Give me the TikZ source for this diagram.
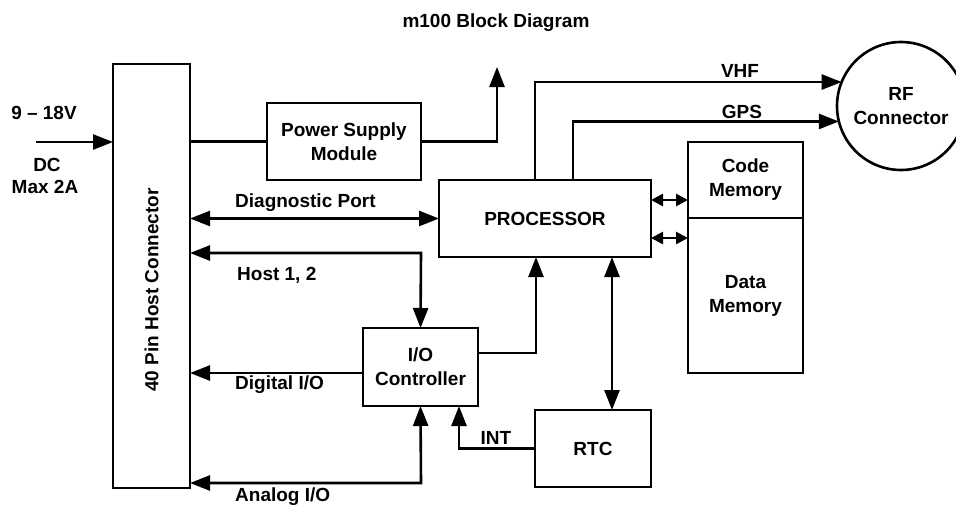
\documentclass[tikz,border=0pt]{standalone}
\usepackage{fontspec}
\setmainfont{Liberation Sans}
\usetikzlibrary{arrows.meta}
\begin{document}
\begin{tikzpicture}[x=1pt,y=-1pt,
  lw/.style={line width=2.6pt},
  txt/.style={font=\bfseries\fontsize{19}{24}\selectfont, align=center, inner sep=0pt},
  blk/.style={draw, lw, txt, outer sep=0pt},
  conn/.style={lw, line join=miter},
  big/.style={-{Triangle[length=20pt,width=15pt]}},
  bigb/.style={{Triangle[length=20pt,width=15pt]}-{Triangle[length=20pt,width=15pt]}},
  smallb/.style={{Triangle[length=12pt,width=12pt]}-{Triangle[length=12pt,width=12pt]}}
]
\useasboundingbox (0,0) rectangle (956,504);
\clip (0,0) rectangle (956,504);

% blocks
\node[blk, minimum width=77pt, minimum height=424pt] (host) at (151.5,276) {};
\node[txt, rotate=90] (hostlbl) at ([yshift=-14pt]host.center) {40 Pin Host Connector};
\node[blk, minimum width=154pt, minimum height=77pt] (psm) at (344,141.5) {Power Supply\\Module};
\node[blk, minimum width=212pt, minimum height=77pt] (proc) at (545,218.5) {PROCESSOR};
\node[blk, minimum width=115pt, minimum height=76pt] (code) at (745.5,180) {Code\\Memory};
\node[blk, minimum width=115pt, minimum height=155pt] (data) at (745.5,295.5) {Data\\Memory};
\node[blk, minimum width=115pt, minimum height=78pt] (io) at (420.5,367) {I/O\\Controller};
\node[blk, minimum width=116pt, minimum height=77pt] (rtc) at (593,448.5) {RTC};
\node[blk, circle, minimum size=128pt] (rf) at (901,106) {RF\\Connector};

% free ends
\coordinate (dcin) at (36,142);
\coordinate (psmout) at (497,67);
\coordinate (h12) at (421,253);
\coordinate (an) at (421,483);

% connectors
\draw[conn, big] (dcin) -- (dcin -| host.west);
\draw[conn] (psm.west -| host.east) -- (psm.west);
\draw[conn, big] (psm.east) -| (psmout);
\draw[conn, bigb] (proc.west -| host.east) -- (proc.west);
\draw[conn, bigb] (h12 -| host.east) -- (h12) -- (io.north);
\draw[conn, big] ([yshift=-6pt]io.west) -- ([yshift=-6pt]io.west -| host.east);
\draw[conn, bigb] (io.south) -- (an) -- (an -| host.east);
\draw[conn, big] ([yshift=14pt]io.east) -| ([xshift=-9pt]proc.south);
\draw[conn, bigb] ([xshift=67pt]proc.south) -- ([xshift=67pt]proc.south |- rtc.north);
\draw[conn, big] (rtc.west) -| ([xshift=38.5pt]io.south);
\draw[conn, big] ([xshift=-10pt]proc.north) |- (rf.158.9);
\draw[conn, big] ([xshift=28pt]proc.north) |- (rf.194.5);
\draw[conn, smallb] ([yshift=18.5pt]proc.east) -- ([yshift=18.5pt]proc.east -| code.west);
\draw[conn, smallb] ([yshift=-19.5pt]proc.east) -- ([yshift=-19.5pt]proc.east -| data.west);

% labels
\node[txt] (title) at (496,23) {m100 Block Diagram};
\node[txt] (volt) at (44,113) {9 – 18V};
\node[txt] (dc) at (47,165) {DC};
\node[txt] (max) at (45,187) {Max 2A};
\node[txt, anchor=west] (diag) at (235,203) {Diagnostic Port};
\node[txt, anchor=west] (host12) at (237,275) {Host 1, 2};
\node[txt, anchor=west] (dig) at (235,385) {Digital I/O};
\node[txt, anchor=west] (ana) at (235,497) {Analog I/O};
\node[txt] (int) at (496,438) {INT};
\node[txt] (vhf) at (740,71) {VHF};
\node[txt] (gps) at (742,112) {GPS};
\end{tikzpicture}
\end{document}
